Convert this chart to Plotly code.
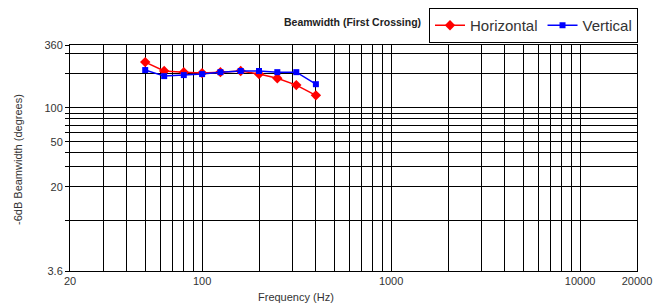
import plotly.graph_objects as go

# Data (1/3-octave frequencies, Hz) and -6dB beamwidth in degrees
freq_hz = [50, 63, 80, 100, 125, 160, 200, 250, 315, 400]
horizontal_deg = [254, 212, 207, 203, 207, 212, 199, 183, 159, 129]
vertical_deg = [216, 191, 195, 199, 207, 212, 212, 207, 207, 162]

x_grid = [20, 30, 40, 50, 60, 70, 80, 90, 100, 200, 300, 400, 500, 600, 700, 800, 900,
          1000, 2000, 3000, 4000, 5000, 6000, 7000, 8000, 9000, 10000, 20000]
x_labels = {20: "20", 100: "100", 1000: "1000", 10000: "10000", 20000: "20000"}
y_grid = [3.6, 10, 20, 30, 40, 50, 60, 70, 80, 90, 100, 200, 300, 360]
y_labels = {3.6: "3.6", 20: "20", 50: "50", 100: "100", 360: "360"}

FONT = "Liberation Sans, Arial, sans-serif"
W, H = 665, 304
L, R, T, B = 70, 28, 45, 33

fig = go.Figure()
fig.add_trace(go.Scatter(
    x=freq_hz, y=horizontal_deg, name="Horizontal", mode="lines+markers",
    line=dict(color="#ff0000", width=1.5),
    marker=dict(symbol="diamond", size=8, color="#ff0000")))
fig.add_trace(go.Scatter(
    x=freq_hz, y=vertical_deg, name="Vertical", mode="lines+markers",
    line=dict(color="#0000ff", width=1.5),
    marker=dict(symbol="square", size=6, color="#0000ff")))

fig.update_layout(
    width=W, height=H,
    margin=dict(l=L, r=R, t=T, b=B, autoexpand=False),
    paper_bgcolor="white", plot_bgcolor="white",
    font=dict(family=FONT, size=11, color="#333333"),
    showlegend=True,
    legend=dict(orientation="h", xref="container", yref="container",
                x=638 / W, xanchor="right", y=1 - 8 / H, yanchor="top",
                bordercolor="#000000", borderwidth=1, bgcolor="white",
                font=dict(size=15, color="#333333"), itemwidth=30,
                tracegroupgap=0),
    annotations=[
        dict(text="<b>Beamwidth (First Crossing)</b>", xref="paper", yref="paper",
             x=(352 - L) / (W - L - R), y=(H - B - 22) / (H - T - B),
             xanchor="center", yanchor="middle", showarrow=False,
             font=dict(size=10.5, color="#222222")),
        dict(text="Frequency (Hz)", xref="paper", yref="paper",
             x=(296 - L) / (W - L - R), y=-(297 - (H - B)) / (H - T - B),
             xanchor="center", yanchor="middle", showarrow=False,
             font=dict(size=11, color="#333333")),
        dict(text="-6dB Beamwidth (degrees)", xref="paper", yref="paper",
             x=-(L - 18) / (W - L - R), y=(H - B - 160) / (H - T - B), textangle=-90,
             xanchor="center", yanchor="middle", showarrow=False,
             font=dict(size=11, color="#333333")),
    ],
)

fig.update_xaxes(
    type="log", range=[1.30103, 4.30103],
    tickmode="array", tickvals=x_grid,
    ticktext=[x_labels.get(v, "") for v in x_grid],
    showgrid=True, gridcolor="#000000", gridwidth=1,
    showline=True, linecolor="#000000", linewidth=1, mirror=True,
    ticks="", zeroline=False, automargin=False,
    tickfont=dict(size=11, color="#333333"),
)
fig.update_yaxes(
    type="log", range=[0.5563025, 2.5563025],
    tickmode="array", tickvals=y_grid,
    ticktext=[y_labels.get(v, "") for v in y_grid],
    showgrid=True, gridcolor="#000000", gridwidth=1,
    showline=True, linecolor="#000000", linewidth=1, mirror=True,
    ticks="outside", ticklen=4, tickcolor="#000000", zeroline=False, automargin=False,
    tickfont=dict(size=11, color="#333333"),
)

fig.write_html("out.html", config={"displayModeBar": False},
               post_script="document.body.style.margin='0';document.body.style.overflow='hidden';")
